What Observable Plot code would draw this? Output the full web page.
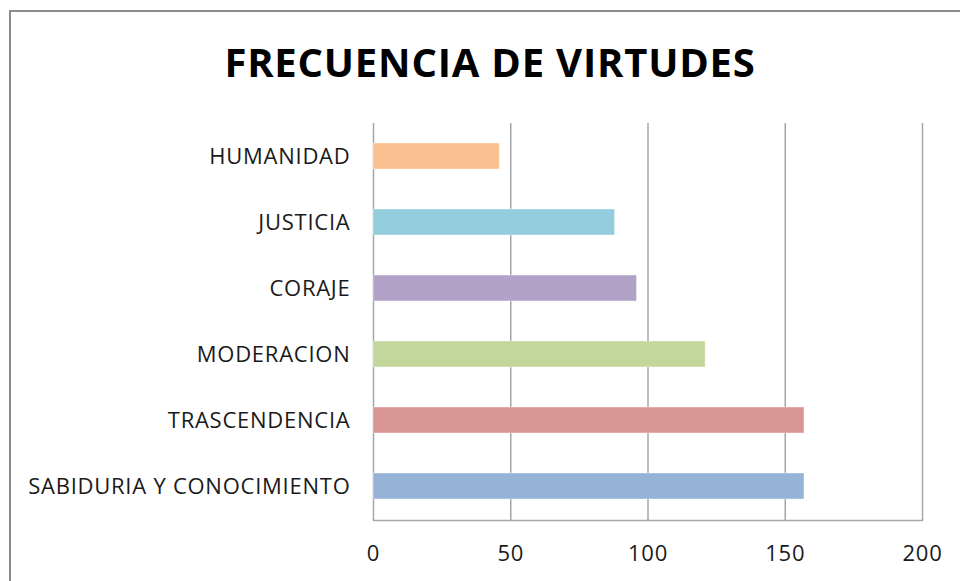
<!DOCTYPE html>
<html>
<head>
<meta charset="utf-8">
<script src="https://cdn.jsdelivr.net/npm/d3@7"></script>
<script src="https://cdn.jsdelivr.net/npm/@observablehq/plot@0.6"></script>
<style>
  html, body { margin: 0; padding: 0; background: #fff; }
  #wrap { position: relative; width: 960px; height: 581px; overflow: hidden; background: #fff; }
  #frame { position: absolute; left: 9px; top: 10px; width: 1000px; height: 700px; border: 2px solid #8c8c8c; box-sizing: border-box; }
  #title { position: absolute; left: 0; top: 36px; width: 980px; text-align: center; font-family: "Open Sans", sans-serif; font-weight: 700; font-size: 40px; letter-spacing: 0.8px; color: #000; line-height: 52px; }
  #chart { position: absolute; left: 0; top: 100px; }
  #chart svg text { letter-spacing: 0.75px; }
</style>
</head>
<body>
<div id="wrap">
  <div id="frame"></div>
  <div id="title">FRECUENCIA DE VIRTUDES</div>
  <div id="chart"></div>
</div>
<script>
const categories = ["HUMANIDAD", "JUSTICIA", "CORAJE", "MODERACION", "TRASCENDENCIA", "SABIDURIA Y CONOCIMIENTO"];
const values = [46, 88, 96, 121, 157, 157];
const colors = ["#FAC090", "#93CDDD", "#B3A2C7", "#C3D69B", "#D99694", "#95B3D7"];
const xTicks = [0, 50, 100, 150, 200];

const data = categories.map((c, i) => ({category: c, value: values[i], color: colors[i]}));

const chart = Plot.plot({
  width: 960,
  height: 481,
  marginTop: 23,
  marginBottom: 61,
  marginLeft: 373,
  marginRight: 38,
  style: {fontFamily: "'Open Sans', sans-serif", fontSize: "22px", color: "#1a1a1a", background: "transparent"},
  x: {domain: [0, 200], ticks: xTicks, label: null, tickSize: 0, tickPadding: 25},
  y: {domain: categories, label: null, tickSize: 0, tickPadding: 23, paddingInner: 0.6, paddingOuter: 0.3},
  marks: [
    Plot.ruleX(xTicks, {stroke: "#a6a6a6", strokeWidth: 1.5, strokeOpacity: 1}),
    Plot.frame({anchor: "bottom", stroke: "#a6a6a6", strokeWidth: 1.5}),
    Plot.barX(data, {x: "value", y: "category", fill: "color", stroke: "#ffffff", strokeOpacity: 0.4, strokeWidth: 1})
  ]
});
document.getElementById("chart").appendChild(chart);
</script>
</body>
</html>
